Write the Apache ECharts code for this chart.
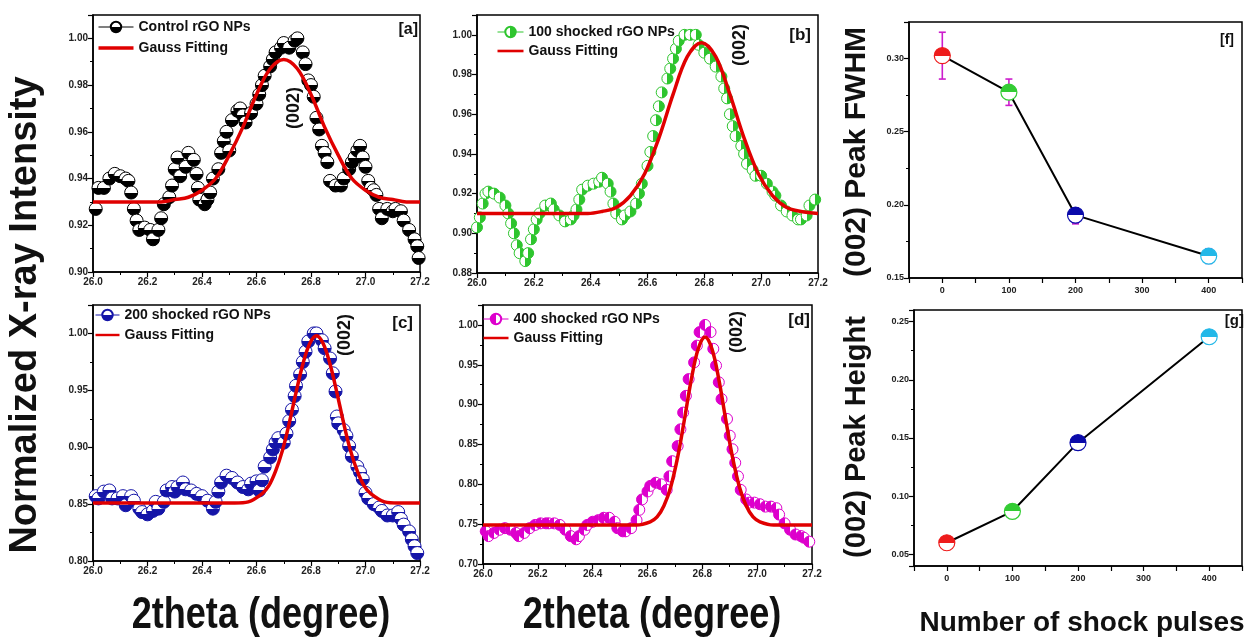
<!DOCTYPE html>
<html><head><meta charset="utf-8">
<script src="https://cdn.jsdelivr.net/npm/echarts@6/dist/echarts.min.js"></script>
<style>html,body{margin:0;padding:0;background:#fff}#c{width:1245px;height:637px}</style>
</head><body><div id="c"></div>
<script>
// ---------- data ----------
const controlData = [[26.01,.927],[26.02,.936],[26.04,.936],[26.06,.940],[26.08,.942],[26.10,.941],[26.12,.940],[26.13,.939],[26.14,.934],[26.15,.927],[26.16,.922],[26.17,.918],[26.19,.919],[26.21,.918],[26.22,.914],[26.24,.918],[26.25,.923],[26.26,.929],[26.28,.932],[26.29,.937],[26.30,.944],[26.31,.949],[26.32,.941],[26.34,.945],[26.35,.951],[26.37,.948],[26.38,.942],[26.385,.936],[26.39,.931],[26.41,.929],[26.42,.931],[26.43,.934],[26.44,.940],[26.46,.944],[26.47,.951],[26.48,.956],[26.49,.960],[26.50,.952],[26.51,.965],[26.53,.969],[26.54,.970],[26.55,.967],[26.56,.964],[26.58,.968],[26.60,.972],[26.61,.976],[26.62,.980],[26.63,.984],[26.65,.988],[26.66,.991],[26.67,.994],[26.69,.996],[26.70,.998],[26.72,.996],[26.74,.999],[26.75,1.000],[26.77,.994],[26.78,.989],[26.79,.982],[26.80,.980],[26.81,.975],[26.82,.966],[26.83,.961],[26.84,.954],[26.85,.951],[26.86,.947],[26.87,.939],[26.89,.937],[26.91,.937],[26.92,.940],[26.94,.944],[26.95,.947],[26.96,.949],[26.97,.952],[26.98,.954],[26.99,.949],[27.00,.945],[27.01,.939],[27.02,.936],[27.03,.935],[27.04,.933],[27.05,.927],[27.06,.923],[27.08,.927],[27.10,.926],[27.11,.927],[27.13,.926],[27.14,.922],[27.16,.918],[27.18,.914],[27.19,.911],[27.195,.906]];
const shock100Data = [[26.00,.903],[26.01,.908],[26.02,.915],[26.03,.920],[26.04,.921],[26.06,.920],[26.08,.918],[26.10,.914],[26.11,.910],[26.12,.905],[26.13,.900],[26.14,.894],[26.15,.890],[26.17,.886],[26.18,.890],[26.19,.897],[26.20,.902],[26.21,.907],[26.22,.910],[26.24,.914],[26.26,.915],[26.27,.912],[26.29,.909],[26.31,.906],[26.33,.907],[26.34,.909],[26.35,.912],[26.36,.917],[26.37,.922],[26.39,.924],[26.41,.925],[26.43,.926],[26.44,.928],[26.46,.925],[26.47,.921],[26.48,.915],[26.49,.910],[26.51,.907],[26.52,.909],[26.54,.911],[26.56,.915],[26.57,.920],[26.58,.925],[26.60,.934],[26.61,.941],[26.62,.949],[26.63,.957],[26.64,.964],[26.65,.971],[26.67,.978],[26.68,.983],[26.69,.988],[26.70,.993],[26.71,.997],[26.73,1.000],[26.75,1.000],[26.77,1.000],[26.78,.995],[26.80,.991],[26.82,.988],[26.84,.984],[26.86,.979],[26.87,.973],[26.88,.968],[26.89,.960],[26.90,.954],[26.91,.949],[26.93,.944],[26.94,.940],[26.95,.935],[26.97,.932],[26.98,.929],[27.00,.929],[27.02,.925],[27.04,.921],[27.05,.919],[27.07,.914],[27.09,.911],[27.11,.909],[27.13,.907],[27.14,.907],[27.16,.909],[27.17,.914],[27.19,.917]];
const shock200Data = [[26.01,.857],[26.02,.855],[26.04,.861],[26.06,.862],[26.07,.855],[26.09,.855],[26.11,.857],[26.12,.849],[26.14,.857],[26.15,.853],[26.17,.846],[26.18,.843],[26.20,.841],[26.22,.844],[26.23,.852],[26.24,.846],[26.26,.852],[26.27,.862],[26.29,.865],[26.30,.861],[26.31,.865],[26.33,.869],[26.34,.863],[26.36,.862],[26.38,.859],[26.40,.857],[26.42,.853],[26.44,.846],[26.45,.852],[26.46,.861],[26.47,.869],[26.49,.875],[26.51,.873],[26.53,.869],[26.55,.865],[26.57,.863],[26.58,.868],[26.60,.870],[26.61,.862],[26.62,.871],[26.63,.883],[26.65,.891],[26.66,.898],[26.67,.904],[26.68,.908],[26.70,.904],[26.71,.912],[26.72,.923],[26.73,.933],[26.74,.945],[26.745,.954],[26.76,.964],[26.77,.975],[26.78,.984],[26.79,.993],[26.81,1.000],[26.82,1.000],[26.84,.994],[26.85,.987],[26.87,.978],[26.88,.965],[26.89,.949],[26.895,.927],[26.90,.921],[26.92,.915],[26.93,.910],[26.94,.901],[26.95,.892],[26.97,.883],[26.98,.878],[26.99,.872],[27.00,.860],[27.01,.855],[27.03,.850],[27.05,.847],[27.06,.844],[27.08,.840],[27.10,.840],[27.12,.843],[27.13,.837],[27.14,.832],[27.16,.826],[27.17,.819],[27.18,.813],[27.19,.807]];
const shock400Data = [[26.01,.741],[26.02,.735],[26.04,.739],[26.06,.743],[26.08,.745],[26.10,.743],[26.12,.739],[26.13,.735],[26.15,.739],[26.17,.745],[26.19,.749],[26.21,.751],[26.23,.751],[26.24,.751],[26.26,.751],[26.28,.749],[26.30,.743],[26.32,.735],[26.34,.731],[26.35,.735],[26.37,.743],[26.38,.749],[26.40,.753],[26.42,.755],[26.44,.758],[26.46,.758],[26.48,.753],[26.49,.745],[26.51,.741],[26.52,.741],[26.54,.745],[26.56,.755],[26.57,.768],[26.58,.781],[26.60,.791],[26.61,.798],[26.63,.802],[26.65,.800],[26.67,.793],[26.68,.810],[26.69,.829],[26.71,.848],[26.72,.869],[26.73,.890],[26.74,.911],[26.75,.932],[26.77,.953],[26.78,.974],[26.79,.991],[26.81,1.000],[26.83,.991],[26.84,.970],[26.85,.949],[26.86,.928],[26.87,.907],[26.89,.882],[26.90,.861],[26.91,.844],[26.92,.827],[26.93,.810],[26.94,.793],[26.96,.781],[26.97,.777],[26.99,.777],[27.01,.775],[27.03,.772],[27.05,.772],[27.07,.770],[27.08,.762],[27.10,.751],[27.12,.743],[27.14,.737],[27.16,.735],[27.17,.733],[27.19,.728]];

const fitControl = [[26.0,.930],[26.1,.930],[26.2,.930],[26.25,.930],[26.30,.931],[26.35,.932],[26.40,.935],[26.45,.940],[26.50,.950],[26.55,.962],[26.60,.976],[26.65,.987],[26.70,.991],[26.75,.987],[26.80,.976],[26.85,.962],[26.90,.950],[26.95,.940],[27.00,.935],[27.05,.932],[27.10,.931],[27.15,.930],[27.2,.930]];
const fit100 = [[26.0,.910],[26.2,.910],[26.39,.910],[26.44,.911],[26.49,.913],[26.54,.919],[26.59,.930],[26.64,.948],[26.69,.970],[26.74,.989],[26.79,.996],[26.84,.989],[26.89,.970],[26.94,.948],[26.99,.930],[27.04,.919],[27.09,.913],[27.14,.911],[27.2,.910]];
const fit200 = [[26.0,.851],[26.3,.851],[26.52,.851],[26.57,.852],[26.62,.859],[26.645,.866],[26.67,.879],[26.695,.897],[26.72,.921],[26.745,.948],[26.77,.973],[26.795,.991],[26.82,.998],[26.845,.991],[26.87,.973],[26.895,.948],[26.92,.921],[26.945,.897],[26.97,.879],[26.995,.866],[27.02,.859],[27.07,.852],[27.12,.851],[27.2,.851]];
const fit400 = [[26.0,.749],[26.3,.749],[26.56,.749],[26.61,.753],[26.635,.759],[26.66,.773],[26.685,.797],[26.71,.834],[26.735,.882],[26.76,.932],[26.785,.970],[26.81,.985],[26.835,.970],[26.86,.932],[26.885,.882],[26.91,.834],[26.935,.797],[26.96,.773],[26.985,.759],[27.01,.753],[27.06,.749],[27.2,.749]];

const pulses = [0, 100, 200, 400];
const fwhm = [0.302, 0.277, 0.193, 0.165];
const fwhmLow = [0.286, 0.268, 0.187, 0.160];
const fwhmHigh = [0.318, 0.286, 0.198, 0.170];
const peakHeight = [0.060, 0.087, 0.146, 0.237];
const pulseColors = ['#ee1c1c', '#33cc33', '#0a0aaa', '#22b8e8'];

const seriesNames = ['Control rGO NPs', '100 shocked rGO NPs', '200 shocked rGO NPs', '400 shocked rGO NPs'];
const fitName = 'Gauss Fitting';
const panelLabels = ['[a]', '[b]', '[c]', '[d]', '[f]', '[g]'];

// ---------- chart ----------
const FONT = '"Liberation Sans", Arial, sans-serif';
const chart = echarts.init(document.getElementById('c'), null, {renderer: 'canvas'});

function half(c, side) {
  const dirs = {bottom: [0,0,0,1], top: [0,1,0,0], right: [0,0,1,0], left: [1,0,0,0]};
  const d = dirs[side];
  return new echarts.graphic.LinearGradient(d[0], d[1], d[2], d[3], [
    {offset: 0, color: '#fff'}, {offset: 0.5, color: '#fff'},
    {offset: 0.5, color: c}, {offset: 1, color: c}
  ]);
}

const gridBoxes = [
  {left: 93, top: 15, width: 327, height: 257},
  {left: 477, top: 15, width: 341, height: 258},
  {left: 93, top: 305, width: 327, height: 256},
  {left: 483, top: 305, width: 329, height: 259},
  {left: 909, top: 22, width: 334, height: 256},
  {left: 914, top: 310, width: 330, height: 256}
];
const grid = gridBoxes.map(g => Object.assign({show: true, borderColor: '#000', borderWidth: 1.5, backgroundColor: 'transparent', containLabel: false}, g));

function axisCommon(fs) {
  return {
    axisLine: {show: true, onZero: false, lineStyle: {color: '#000', width: 1.5}},
    axisTick: {show: true, inside: false, length: 5, lineStyle: {color: '#000', width: 1.2}},
    minorTick: {show: true, splitNumber: 2, length: 3, lineStyle: {color: '#000', width: 1}},
    splitLine: {show: false},
    minorSplitLine: {show: false},
    axisLabel: {color: '#222', fontSize: fs, fontWeight: 'bold', fontFamily: FONT, margin: 5}
  };
}

const xAxis = [];
const yAxis = [];
for (let i = 0; i < 4; i++) {
  xAxis.push(Object.assign(axisCommon(10), {type: 'value', gridIndex: i, min: 26.0, max: 27.2, interval: 0.2}));
  xAxis[i].axisLabel.formatter = v => v.toFixed(1);
}
const yRanges = [[0.90, 1.01, 0.02], [0.88, 1.01, 0.02], [0.80, 1.025, 0.05], [0.70, 1.025, 0.05]];
yRanges.forEach((r, i) => {
  const ax = Object.assign(axisCommon(10), {type: 'value', gridIndex: i, min: r[0], max: r[1], interval: r[2]});
  ax.axisLabel.formatter = v => v.toFixed(2);
  ax.axisLabel.showMaxLabel = false;
  yAxis.push(ax);
});
for (let i = 4; i < 6; i++) {
  const ax = Object.assign(axisCommon(9), {type: 'value', gridIndex: i, min: -50, max: 450, interval: 50});
  ax.minorTick.show = false;
  ax.axisLabel.formatter = v => (v % 100 === 0 ? String(v) : '');
  ax.axisLabel.margin = 8;
  xAxis.push(ax);
}
{
  const ax = Object.assign(axisCommon(9), {type: 'value', gridIndex: 4, min: 0.15, max: 0.325, interval: 0.05});
  ax.axisLabel.formatter = v => v.toFixed(2);
  ax.axisLabel.showMaxLabel = false;
  yAxis.push(ax);
  const ax2 = Object.assign(axisCommon(9), {type: 'value', gridIndex: 5, min: 0.04, max: 0.26, splitNumber: 5});
  ax2.axisLabel.formatter = v => v.toFixed(2);
  ax2.axisLabel.showMaxLabel = false;
  ax2.axisLabel.showMinLabel = false;
  yAxis.push(ax2);
}

const dataSets = [controlData, shock100Data, shock200Data, shock400Data];
const fits = [fitControl, fit100, fit200, fit400];
const markerColors = ['#000000', '#2ec52e', '#1515a8', '#dd00cc'];
const markerSides = ['bottom', 'right', 'bottom', 'left'];
const markerSizes = [13, 11, 13, 11];

const series = [];
dataSets.forEach((d, i) => {
  series.push({
    type: 'line', name: seriesNames[i], xAxisIndex: i, yAxisIndex: i, data: d,
    symbol: 'circle', symbolSize: markerSizes[i], showAllSymbol: true,
    lineStyle: {opacity: 0, color: markerColors[i]},
    itemStyle: {color: half(markerColors[i], markerSides[i]), borderColor: markerColors[i], borderWidth: 1},
    z: 2, silent: true, animation: false
  });
  series.push({
    type: 'line', name: fitName, xAxisIndex: i, yAxisIndex: i, data: fits[i],
    symbol: 'none', smooth: 0.35,
    lineStyle: {color: '#e00000', width: 3.5},
    itemStyle: {color: '#e00000'},
    z: 3, silent: true, animation: false
  });
});

// error bars for FWHM
series.push({
  type: 'custom', xAxisIndex: 4, yAxisIndex: 4, z: 1, silent: true, animation: false,
  data: pulses.map((p, i) => [p, fwhmLow[i], fwhmHigh[i]]),
  encode: {x: 0, y: [1, 2]},
  renderItem: function (params, api) {
    const x = api.value(0);
    const top = api.coord([x, api.value(2)]);
    const bot = api.coord([x, api.value(1)]);
    const w = 3.5;
    const st = {stroke: '#cc1ccc', lineWidth: 1.6};
    return {type: 'group', children: [
      {type: 'line', shape: {x1: top[0], y1: top[1], x2: bot[0], y2: bot[1]}, style: st},
      {type: 'line', shape: {x1: top[0] - w, y1: top[1], x2: top[0] + w, y2: top[1]}, style: st},
      {type: 'line', shape: {x1: bot[0] - w, y1: bot[1], x2: bot[0] + w, y2: bot[1]}, style: st}
    ]};
  }
});

function pulsePoints(vals) {
  return pulses.map((p, i) => ({
    value: [p, vals[i]],
    itemStyle: {color: half(pulseColors[i], 'top'), borderColor: pulseColors[i], borderWidth: 1.2}
  }));
}
series.push({
  type: 'line', xAxisIndex: 4, yAxisIndex: 4, data: pulsePoints(fwhm),
  symbol: 'circle', symbolSize: 16, lineStyle: {color: '#000', width: 2}, z: 3, silent: true, animation: false
});
series.push({
  type: 'line', xAxisIndex: 5, yAxisIndex: 5, data: pulsePoints(peakHeight),
  symbol: 'circle', symbolSize: 16, lineStyle: {color: '#000', width: 2}, z: 3, silent: true, animation: false
});

// legends
const legendPos = [
  {left: 98, top: 20, itemWidth: 35, itemGap: 7},
  {left: 497, top: 25, itemWidth: 26, itemGap: 5},
  {left: 95, top: 308, itemWidth: 24, itemGap: 6},
  {left: 483, top: 312, itemWidth: 25, itemGap: 5}
];
const lineIcon = 'path://M0,0 L40,0 L40,4 L0,4 Z';
const legend = legendPos.map((p, i) => ({
  left: p.left, top: p.top, orient: 'vertical', itemWidth: p.itemWidth, itemHeight: 13, itemGap: p.itemGap,
  padding: 0, selectedMode: false, symbolKeepAspect: true,
  textStyle: {fontFamily: FONT, fontWeight: 'bold', fontSize: 14, color: '#111', padding: [0, 0, 0, 0]},
  data: [
    {name: seriesNames[i], lineStyle: {opacity: 1, width: 1, color: markerColors[i]}},
    {name: fitName, icon: lineIcon, itemStyle: {color: '#e00000'}}
  ]
}));

// texts
function txt(text, x, y, size, opts) {
  opts = opts || {};
  return {
    type: 'text', x: x, y: y, rotation: opts.rot || 0, scaleX: opts.sx || 1, silent: true, z: 10,
    style: {text: text, fill: '#111', font: 'bold ' + size + 'px ' + FONT,
      textAlign: opts.align || 'center', textVerticalAlign: 'middle',
      align: opts.align || 'center', verticalAlign: 'middle'}
  };
}
const R = Math.PI / 2;
const graphic = [
  txt('Normalized X-ray Intensity', 26, 315, 38, {rot: R}),
  txt('2theta (degree)', 261, 616, 44, {sx: 0.82}),
  txt('2theta (degree)', 652, 616, 44, {sx: 0.82}),
  txt('(002) Peak FWHM', 857, 152, 30, {rot: R}),
  txt('(002) Peak Height', 857, 437, 29, {rot: R}),
  txt('Number of shock pulses', 1082, 623, 28),
  txt(panelLabels[0], 418, 30, 16, {align: 'right'}),
  txt(panelLabels[1], 811, 35, 17, {align: 'right'}),
  txt(panelLabels[2], 413, 323, 17, {align: 'right'}),
  txt(panelLabels[3], 810, 320, 17, {align: 'right'}),
  txt(panelLabels[4], 1234, 40, 14, {align: 'right'}),
  txt(panelLabels[5], 1244, 321, 15, {align: 'right'}),
  txt('(002)', 294, 108, 18, {rot: R}),
  txt('(002)', 740, 45, 18, {rot: R}),
  txt('(002)', 345, 335, 18, {rot: R}),
  txt('(002)', 737, 332, 18, {rot: R})
];

chart.setOption({
  animation: false,
  backgroundColor: '#fff',
  grid: grid, xAxis: xAxis, yAxis: yAxis, series: series, legend: legend, graphic: graphic
});
</script>
</body></html>
